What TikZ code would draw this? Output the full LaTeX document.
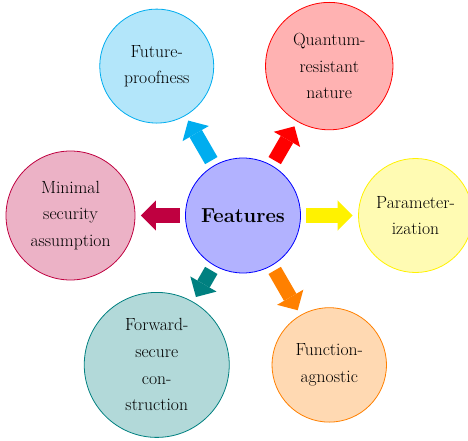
\RequirePackage{fix-cm}
\documentclass[tikz,border=0pt]{standalone}
\usetikzlibrary{arrows.meta}
\begin{document}
\begin{tikzpicture}[x=1pt,y=-1pt,
  bubble/.style={circle, draw=#1, fill=#1!30, line width=0.8pt, align=center, inner sep=0pt,
    font=\fontsize{17.6}{26.7}\selectfont},
  hub/.style={circle, draw=blue, fill=blue!30, line width=0.8pt, inner sep=0pt, minimum size=115pt,
    font=\fontsize{20.2}{24}\selectfont\bfseries},
  fatarrow/.style={draw=#1, line width=14.3pt, shorten <=5.5pt, shorten >=5.5pt,
    -{Triangle[length=15pt,width=30.3pt,line width=0pt]}}
]
\useasboundingbox (0,0) rectangle (468,441);
\node[hub] (c) at (243,215.5) {Features};
\node[bubble=cyan, minimum size=114pt] (fp) at (156.75,66.1) {Future-\\proofness};
\node[bubble=red, minimum size=127.4pt] (qr) at (329.25,66.1) {Quantum-\\resistant\\nature};
\node[bubble=yellow, minimum size=114pt] (pa) at (415.5,215.5) {Parameter-\\ization};
\node[bubble=orange, minimum size=114.4pt] (fa) at (329.25,364.9) {Function-\\agnostic};
\node[bubble=teal, minimum size=145pt] (fs) at (156.75,364.9) {Forward-\\secure\\con-\\struction};
\node[bubble=purple, minimum size=129pt] (ms) at (70.5,215.5) {Minimal\\security\\assumption};
\draw[fatarrow=cyan] (c) -- (fp);
\draw[fatarrow=red] (c) -- (qr);
\draw[fatarrow=yellow] (c) -- (pa);
\draw[fatarrow=orange] (c) -- (fa);
\draw[fatarrow=teal] (c) -- (fs);
\draw[fatarrow=purple] (c) -- (ms);
\end{tikzpicture}
\end{document}
